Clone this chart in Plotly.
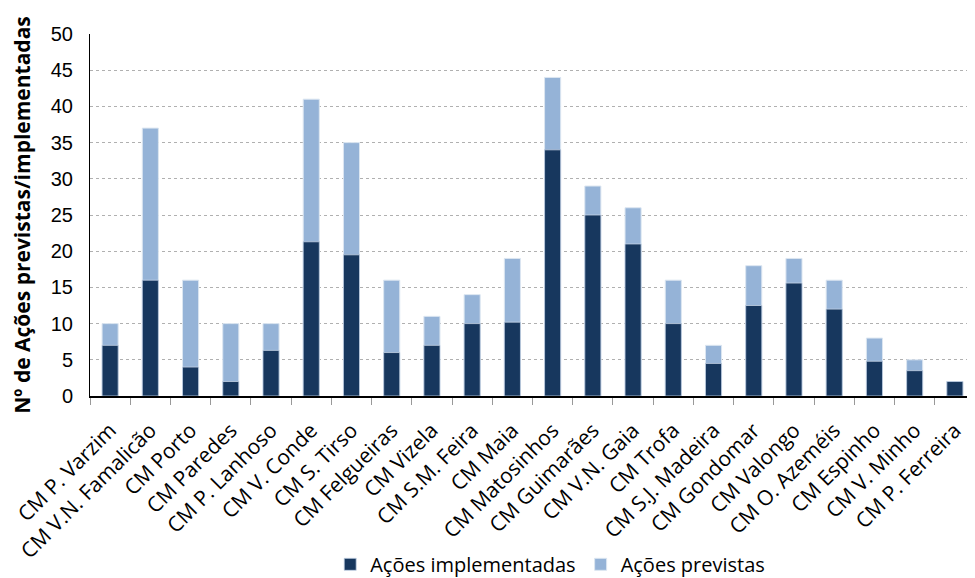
import plotly.graph_objects as go

categorias = ["CM P. Varzim", "CM V.N. Famalicão", "CM Porto", "CM Paredes", "CM P. Lanhoso",
              "CM V. Conde", "CM S. Tirso", "CM Felgueiras", "CM Vizela", "CM S.M. Feira",
              "CM Maia", "CM Matosinhos", "CM Guimarães", "CM V.N. Gaia", "CM Trofa",
              "CM S.J. Madeira", "CM Gondomar", "CM Valongo", "CM O. Azeméis", "CM Espinho",
              "CM V. Minho", "CM P. Ferreira"]
implementadas = [7, 16, 4, 2, 6.3, 21.3, 19.5, 6, 7, 10, 10.2, 34, 25, 21, 10, 4.5, 12.5, 15.6, 12, 4.8, 3.5, 2]
previstas = [10, 37, 16, 10, 10, 41, 35, 16, 11, 14, 19, 44, 29, 26, 16, 7, 18, 19, 16, 8, 5, 2]
y_ticks = [0, 5, 10, 15, 20, 25, 30, 35, 40, 45, 50]

fig = go.Figure()
fig.add_trace(go.Bar(x=categorias, y=previstas, name="Ações previstas",
                     marker=dict(color="#95B3D7", line=dict(color="#DCE6F1", width=1)),
                     width=0.4))
fig.add_trace(go.Bar(x=categorias, y=implementadas, name="Ações implementadas",
                     marker=dict(color="#17375E", line=dict(color="#C5D3E6", width=0.8)),
                     width=0.4))

fig.update_layout(
    barmode="overlay",
    width=967, height=570,
    margin=dict(l=82, r=0, t=26, b=182),
    plot_bgcolor="white", paper_bgcolor="white",
    font=dict(family="Liberation Sans, Arial, sans-serif", color="black"),
    showlegend=True,
    legend=dict(orientation="h", x=0.52, xanchor="center", xref="paper",
                y=0.024, yanchor="middle", yref="container",
                traceorder="reversed",
                font=dict(family="Open Sans, sans-serif", size=20),
                itemwidth=30),
    xaxis=dict(type="category", tickangle=-45, showline=True, linecolor="black", linewidth=1.5,
               ticks="outside", tickson="boundaries", ticklen=7, tickcolor="#999999",
               tickfont=dict(family="Open Sans, sans-serif", size=21),
               ticklabelstandoff=12,
               showgrid=False, range=[-0.5, 21.5], automargin=False),
    yaxis=dict(range=[0, 50], tickvals=y_ticks, showline=True, linecolor="black", linewidth=1,
               ticks="", showgrid=True, gridcolor="#B0B0B0", griddash="dot", gridwidth=1,
               tickfont=dict(size=20), automargin=False, ticklabelstandoff=12,
               title=dict(text="<b>Nº de Ações previstas/implementadas</b>",
                          font=dict(family="Open Sans, sans-serif", size=21), standoff=14)),
)

fig.write_html("out.html")
